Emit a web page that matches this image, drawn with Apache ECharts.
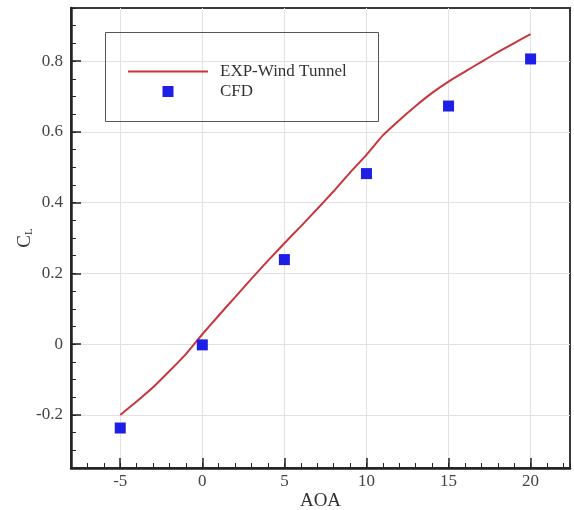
<!DOCTYPE html>
<html>
<head>
<meta charset="utf-8">
<script src="https://cdn.jsdelivr.net/npm/echarts@6/dist/echarts.min.js"></script>
<style>html,body{margin:0;padding:0;background:#fff;}#c{width:574px;height:510px;}</style>
</head>
<body>
<div id="c"></div>
<script>
// EXP-Wind Tunnel curve (AOA, CL)
var lineAoa = [-5, -4, -3, -2, -1, 0, 1, 2, 3, 4, 5, 6, 7, 8, 9, 10, 11, 12, 13, 14, 15, 16, 17, 18, 19, 20];
var lineCl  = [-0.200, -0.162, -0.122, -0.076, -0.028, 0.028, 0.081, 0.133, 0.185, 0.236, 0.285, 0.333, 0.382, 0.432, 0.485, 0.535, 0.590, 0.633, 0.673, 0.710, 0.742, 0.770, 0.798, 0.825, 0.851, 0.876];
// CFD points
var cfdAoa = [-5, 0, 5, 10, 15, 20];
var cfdCl  = [-0.237, -0.002, 0.239, 0.482, 0.673, 0.806];
// tick labels
var xTicks = [-5, 0, 5, 10, 15, 20];
var yTicks = [-0.2, 0, 0.2, 0.4, 0.6, 0.8];
var seriesNames = ['EXP-Wind Tunnel', 'CFD'];

var serif = '"Liberation Serif", "DejaVu Serif", serif';
var lineColor = '#c8363d';
var cfdColor = '#1e1ee6';
var chart = echarts.init(document.getElementById('c'));

function zip(a, b) { return a.map(function (v, i) { return [v, b[i]]; }); }

var xMin = -8, xMax = 22.4, yMin = -0.35, yMax = 0.95;

chart.setOption({
  animation: false,
  backgroundColor: '#fff',
  grid: { left: 71, right: 4, top: 8, bottom: 42, show: true, borderColor: '#3a3a3a', borderWidth: 2,
          containLabel: false, outerBoundsMode: 'none' },
  legend: {
    data: [
      { name: seriesNames[0], icon: 'path://M0,0L80,0L80,2L0,2Z', itemStyle: { color: lineColor } },
      { name: seriesNames[1], icon: 'path://M0,0L10,0L10,10L0,10Z', itemStyle: { color: cfdColor, opacity: 1 } }
    ],
    symbolKeepAspect: true,
    orient: 'vertical',
    left: 128, top: 63, padding: 0,
    itemWidth: 80, itemHeight: 11, itemGap: 3,
    textStyle: { fontFamily: serif, fontSize: 17, color: '#333', padding: [0, 0, 0, 7] }
  },
  graphic: [{
    type: 'rect', z: 1, silent: true,
    shape: { x: 105.5, y: 32.5, width: 273, height: 89 },
    style: { fill: 'rgba(0,0,0,0)', stroke: '#555', lineWidth: 1 }
  }],
  xAxis: [{
    type: 'value', min: xMin, max: xMax, interval: 1, position: 'bottom',
    name: 'AOA', nameLocation: 'middle', nameGap: 24, nameMoveOverlap: false,
    nameTextStyle: { fontFamily: serif, fontSize: 19, color: '#333' },
    axisLine: { show: true, onZero: false, lineStyle: { color: '#222', width: 2.5 } },
    axisTick: { show: true, inside: true, length: 10, customValues: xTicks, lineStyle: { color: '#222', width: 1.5 } },
    axisLabel: { show: true, customValues: xTicks, margin: 5, fontFamily: serif, fontSize: 17, color: '#444' },
    splitLine: { show: true, lineStyle: { color: '#e2e2e2', width: 1 } }
  }, {
    type: 'value', min: xMin, max: xMax, interval: 1, position: 'bottom',
    axisLine: { show: false, onZero: false },
    axisTick: { show: true, inside: true, length: 5, lineStyle: { color: '#222', width: 1 } },
    axisLabel: { show: false },
    splitLine: { show: false }
  }],
  yAxis: [{
    type: 'value', min: yMin, max: yMax, interval: 0.05, position: 'left',
    name: '{a|C}{b|L}', nameLocation: 'middle', nameGap: 36, nameRotate: 90, nameMoveOverlap: false,
    nameTextStyle: { fontFamily: serif, color: '#333', rich: {
      a: { fontFamily: serif, fontSize: 19, color: '#333' },
      b: { fontFamily: serif, fontSize: 11, color: '#333', padding: [9, 0, 0, 0] }
    } },
    axisLine: { show: true, onZero: false, lineStyle: { color: '#222', width: 2.5 } },
    axisTick: { show: true, inside: true, length: 10, customValues: yTicks, lineStyle: { color: '#222', width: 1.5 } },
    axisLabel: { show: true, customValues: yTicks, margin: 8, fontFamily: serif, fontSize: 17, color: '#444',
      formatter: function (v) { return String(Math.round(v * 10) / 10); } },
    splitLine: { show: true, lineStyle: { color: '#e2e2e2', width: 1 } }
  }, {
    type: 'value', min: yMin, max: yMax, interval: 0.05, position: 'left',
    axisLine: { show: false, onZero: false },
    axisTick: { show: true, inside: true, length: 5, lineStyle: { color: '#222', width: 1 } },
    axisLabel: { show: false },
    splitLine: { show: false }
  }],
  series: [{
    name: seriesNames[0], type: 'line', xAxisIndex: 0, yAxisIndex: 0,
    data: zip(lineAoa, lineCl), symbol: 'none', showSymbol: false, smooth: 0.15,
    lineStyle: { color: lineColor, width: 2 }, itemStyle: { color: lineColor }, z: 3
  }, {
    name: seriesNames[1], type: 'scatter', xAxisIndex: 0, yAxisIndex: 0,
    data: zip(cfdAoa, cfdCl), symbol: 'rect', symbolSize: 11,
    itemStyle: { color: cfdColor, opacity: 1 }, z: 4
  }]
});
</script>
</body>
</html>
